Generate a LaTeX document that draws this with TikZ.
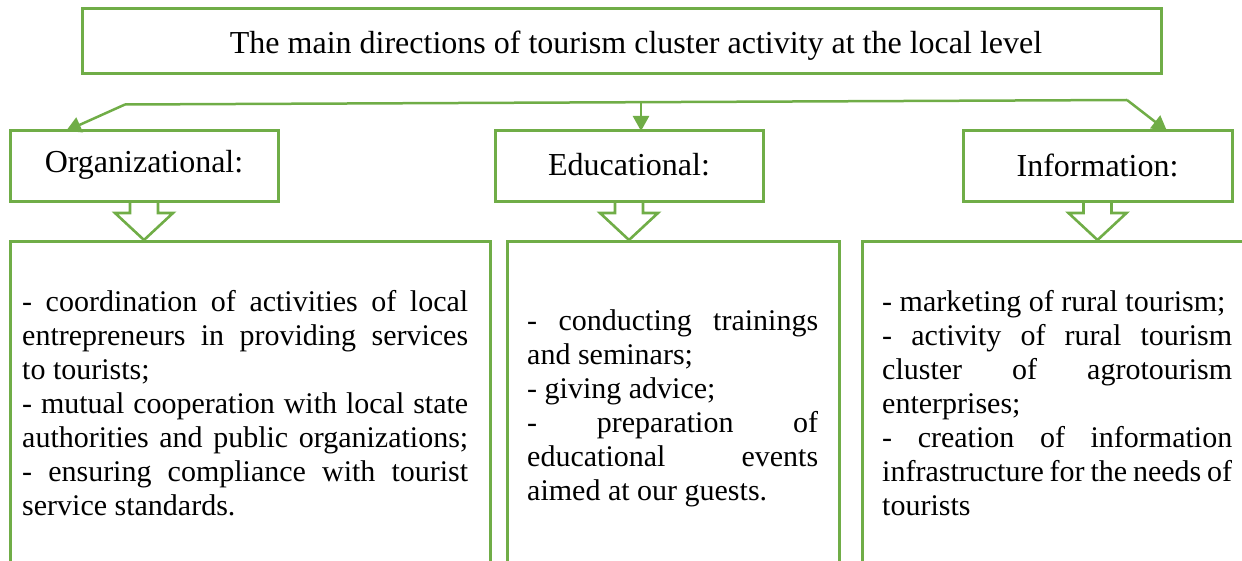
\documentclass[tikz,border=0pt]{standalone}
\usepackage{fontspec}
\setmainfont{Liberation Serif}
\usetikzlibrary{arrows.meta,calc}
\definecolor{leaf}{HTML}{70AD47}
% open block arrow from the bottom of one box down to the top of another
\newcommand\hollowarrow[2]{%
  \draw[leaf, line width=2.6pt, line join=miter]
    ($(#1.south)+(-14,0)$) -- ++(0,11) -- ++(-15,0)
    -- ($(#1.south |- #2.north)+(0,-2)$)
    -- ($(#1.south)+(29,11)$) -- ++(-15,0) -- ++(0,-11);}
\begin{document}
\begin{tikzpicture}[x=1pt,y=-1pt,
  frame/.style={draw=leaf, line width=3pt, inner sep=0pt, outer sep=0pt},
  link/.style={draw=leaf, line width=2.5pt, -{Triangle[length=15pt,width=16pt]}},
  bigfont/.style={font=\fontsize{32}{36}\selectfont, inner sep=0pt},
  body/.style={font=\fontsize{30}{34}\selectfont, align=left, inner sep=0pt, anchor=north west},
]
\useasboundingbox (0,0) rectangle (1242,561);
\clip (0,0) rectangle (1242,561);

% title
\node[frame, minimum width=1079pt, minimum height=65pt] (title) at (621.5,41.5) {};
\node[bigfont] (titletext) at (636,46) {The main directions of tourism cluster activity at the local level};

% the three directions
\node[frame, minimum width=268pt, minimum height=71pt] (org) at (144,166.5) {};
\node[bigfont] (orgtext) at (144,165) {Organizational:};
\node[frame, minimum width=268pt, minimum height=71pt] (edu) at (629,166.5) {};
\node[bigfont] (edutext) at (629,165) {Educational:};
\node[frame, minimum width=269pt, minimum height=71pt] (info) at (1097.5,166.5) {};
\node[bigfont] (infotext) at (1097.5,165) {Information:};

% content boxes (run off the lower edge)
\node[frame, minimum width=480pt, minimum height=358pt] (orgbox) at (250,421) {};
\node[frame, minimum width=332pt, minimum height=358pt] (edubox) at (673,421) {};
\node[frame, minimum width=400pt, minimum height=358pt] (infobox) at (1062,421) {};

% distribution line from the title to the directions
\coordinate (jl) at (125,104.5);
\coordinate (jm) at (641,102.2);
\coordinate (jr) at (1127,100);
\draw[leaf, line width=2.5pt] (jl) -- (jr);
\draw[link] (jl) -- ($(org.north west)+(56,0)$);
\draw[link] (jm) -- (jm |- edu.north);
\draw[link] (jr) -- ($(info.north west)+(204,0)$);

% block arrows
\hollowarrow{org}{orgbox}
\hollowarrow{edu}{edubox}
\hollowarrow{info}{infobox}

% texts
\node[body] (orglist) at (22,290.5) {%
\makebox[446pt][s]{- coordination of activities of local}\\
\makebox[446pt][s]{entrepreneurs in providing services}\\
to tourists;\\
\makebox[446pt][s]{- mutual cooperation with local state}\\
\makebox[446pt][s]{authorities and public organizations;}\\
\makebox[446pt][s]{- ensuring compliance with tourist}\\
service standards.};

\node[body] (edulist) at (527,309.5) {%
\makebox[291pt][s]{- conducting trainings}\\
and seminars;\\
- giving advice;\\
\makebox[291pt][s]{- preparation of}\\
\makebox[291pt][s]{educational events}\\
aimed at our guests.};

\node[body] (infolist) at (882,290.5) {%
- marketing of rural tourism;\\
\makebox[350pt][s]{- activity of rural tourism}\\
\makebox[350pt][s]{cluster of agrotourism}\\
enterprises;\\
\makebox[350pt][s]{- creation of information}\\
\makebox[350pt][s]{infrastructure for the needs of}\\
tourists};
\end{tikzpicture}
\end{document}
